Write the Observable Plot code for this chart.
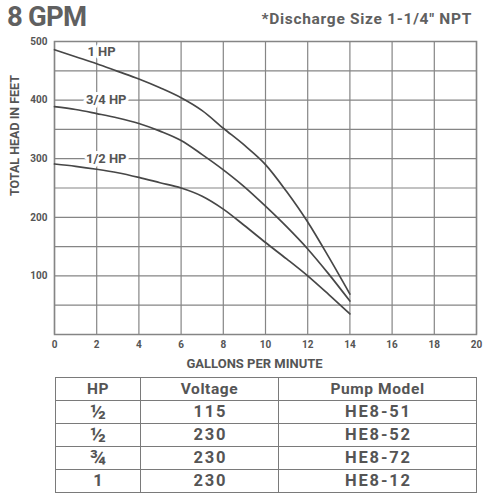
<!DOCTYPE html>
<html>
<head>
<meta charset="utf-8">
<script src="https://cdn.jsdelivr.net/npm/d3@7"></script>
<script src="https://cdn.jsdelivr.net/npm/@observablehq/plot@0.6"></script>
<style>
  html, body { margin: 0; padding: 0; background: #fff; }
  #wrap { position: relative; width: 484px; height: 493px; font-family: Roboto, "DejaVu Sans", sans-serif; color: #5a5a5a; }
  #title { position: absolute; left: 7px; top: 3px; font-size: 27.5px; line-height: 28px; letter-spacing: -0.8px; font-weight: 700; color: #606060; white-space: nowrap; }
  #sub { position: absolute; right: 12px; top: 11px; font-size: 15.5px; line-height: 16px; letter-spacing: 0.7px; font-weight: 700; color: #606060; white-space: nowrap; }
  #chart { position: absolute; left: 0; top: 0; }
  table { position: absolute; left: 55px; top: 377px; width: 421px; border-collapse: collapse; table-layout: fixed; }
  td, th { border: 1.3px solid #7a7a7a; height: 22px; padding: 0; text-align: center; font-weight: 700; color: #555; line-height: 20px; }
  th { font-size: 15.5px; letter-spacing: 0.6px; }
  td { font-size: 16.5px; letter-spacing: 1.8px; text-indent: 1.8px; }
  td.frac { font-size: 21px; letter-spacing: 0; text-indent: 0; }
</style>
</head>
<body>
<div id="wrap">
  <div id="title">8 GPM</div>
  <div id="sub">*Discharge Size 1-1/4" NPT</div>
  <div id="chart"></div>
  <table id="tbl"></table>
</div>
<script>
// Flow (gallons per minute) sample points
const gpm = [0, 1, 2, 3, 4, 5, 6, 7, 8, 9, 10, 11, 12, 13, 14];
// Total head in feet for each pump
const head1hp   = [486, 474, 462, 449, 436, 421, 404, 382, 352, 323, 290, 244, 192, 132, 69];
const head34hp  = [389, 384, 377, 369.5, 360, 347, 331, 307, 281, 252, 219, 184, 146, 103, 57];
const head12hp  = [291, 287, 282, 276, 268, 259, 250, 236, 214, 186, 157, 129, 100, 68, 35];
const seriesNames = ["1 HP", "3/4 HP", "1/2 HP"];
// Curve labels (anchor in data units)
const labelGpm  = [2.23, 2.45, 2.45];
const labelHead = [483, 400, 300];
// Axis ticks
const xTicks = [0, 2, 4, 6, 8, 10, 12, 14, 16, 18, 20];
const yTicks = [100, 200, 300, 400, 500];
const yGrid  = [0, 50, 100, 150, 200, 250, 300, 350, 400, 450, 500];
// Table
const tableHeader = ["HP", "Voltage", "Pump Model"];
const tableHP = ["½", "½", "¾", "1"];
const tableVoltage = ["115", "230", "230", "230"];
const tableModel = ["HE8-51", "HE8-52", "HE8-72", "HE8-12"];

const allHeads = [head1hp, head34hp, head12hp];
const data = [];
seriesNames.forEach((s, i) => gpm.forEach((g, j) => data.push({hp: s, gpm: g, head: allHeads[i][j]})));
const labels = seriesNames.map((s, i) => ({text: s, gpm: labelGpm[i], head: labelHead[i]}));

const grid = "#858585";
const txt = "#555";
const chart = Plot.plot({
  width: 484,
  height: 372,
  marginTop: 41,
  marginBottom: 38,
  marginLeft: 54,
  marginRight: 8,
  style: {fontFamily: "Roboto, sans-serif", background: "transparent"},
  x: {domain: [0, 20]},
  y: {domain: [0, 500]},
  marks: [
    Plot.gridX(xTicks, {stroke: grid, strokeOpacity: 1, strokeWidth: 1.2}),
    Plot.gridY(yGrid, {stroke: grid, strokeOpacity: 1, strokeWidth: 1.2}),
    Plot.frame({stroke: grid, strokeWidth: 1.5}),
    Plot.axisX(xTicks, {tickSize: 0, tickPadding: 6, fontSize: 10, fontWeight: "bold", fill: txt, label: null}),
    Plot.axisY(yTicks, {tickSize: 0, tickPadding: 7, fontSize: 10, fontWeight: "bold", fill: txt, label: null}),
    Plot.text(["GALLONS PER MINUTE"], {frameAnchor: "bottom", dx: -11, dy: 33, fontSize: 13, fontWeight: "bold", fill: txt}),
    Plot.text(["TOTAL HEAD IN FEET"], {frameAnchor: "left", rotate: -90, dx: -40, dy: 8, fontSize: 12.5, fontWeight: "bold", fill: txt}),
    Plot.line(data, {x: "gpm", y: "head", z: "hp", stroke: "#474747", strokeWidth: 1.7, curve: "monotone-x"}),
    Plot.text(labels, {x: "gpm", y: "head", text: "text", fill: txt, stroke: "white", strokeWidth: 6, fontSize: 13, fontWeight: "bold"})
  ]
});
document.getElementById("chart").appendChild(chart);

const tbl = document.getElementById("tbl");
const colg = document.createElement("colgroup");
[85, 138, 198].forEach(w => { const c = document.createElement("col"); c.style.width = w + "px"; colg.appendChild(c); });
tbl.appendChild(colg);
const hr = document.createElement("tr");
tableHeader.forEach(h => { const th = document.createElement("th"); th.textContent = h; hr.appendChild(th); });
tbl.appendChild(hr);
tableHP.forEach((hp, i) => {
  const tr = document.createElement("tr");
  [hp, tableVoltage[i], tableModel[i]].forEach((v, k) => {
    const td = document.createElement("td");
    td.textContent = v;
    if (k === 0 && hp !== "1") td.className = "frac";
    tr.appendChild(td);
  });
  tbl.appendChild(tr);
});
</script>
</body>
</html>
